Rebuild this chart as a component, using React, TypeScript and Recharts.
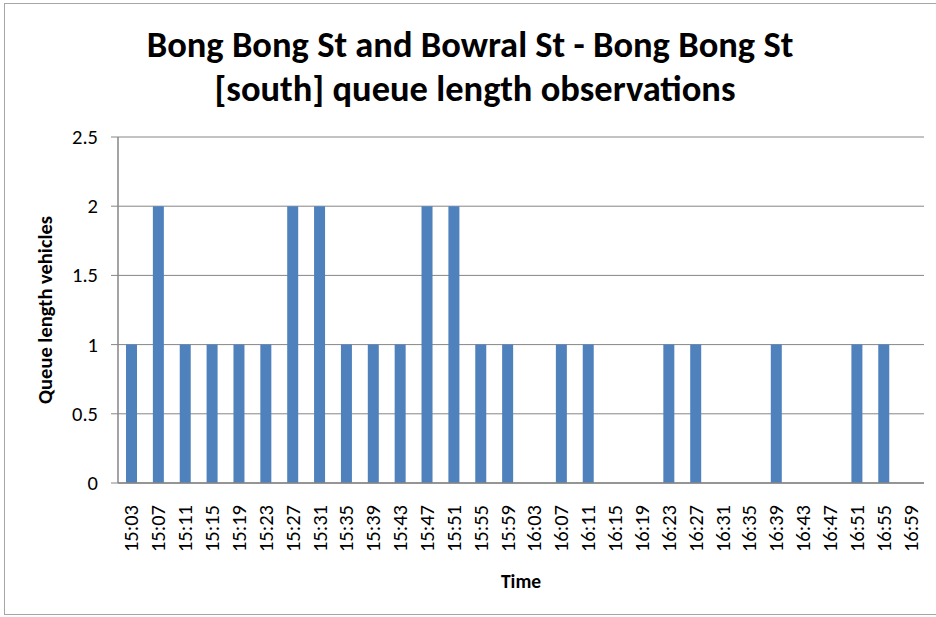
import React from "react";
import { BarChart, Bar, XAxis, YAxis, CartesianGrid, Customized } from "recharts";

const times = [
  "15:03", "15:07", "15:11", "15:15", "15:19", "15:23", "15:27", "15:31", "15:35", "15:39",
  "15:43", "15:47", "15:51", "15:55", "15:59", "16:03", "16:07", "16:11", "16:15", "16:19",
  "16:23", "16:27", "16:31", "16:35", "16:39", "16:43", "16:47", "16:51", "16:55", "16:59",
];
const queueLengths = [
  1, 2, 1, 1, 1, 1, 2, 2, 1, 1,
  1, 2, 2, 1, 1, 0, 1, 1, 0, 0,
  1, 1, 0, 0, 1, 0, 0, 1, 1, 0,
];
const yTicks = [0, 0.5, 1, 1.5, 2, 2.5];
const titleLines = ["Bong Bong St and Bowral St - Bong Bong St", "[south] queue length observations"];
const yLabel = "Queue length vehicles";
const xLabel = "Time";

const data = times.map((t, i) => ({ time: t, value: queueLengths[i] }));

const FONT = "Carlito, Lato, 'Open Sans', sans-serif";

const XTick = (props: any) => {
  const { x, payload } = props;
  return (
    <text
      transform={`translate(${x},505) rotate(-90)`}
      textAnchor="end"
      dominantBaseline="central"
      fontSize={20.5}
      fontFamily={FONT}
      fill="#000"
    >
      {payload.value}
    </text>
  );
};

const YTick = (props: any) => {
  const { y, payload } = props;
  return (
    <text x={98} y={y} textAnchor="end" dominantBaseline="central" fontSize={20.5} fontFamily={FONT} fill="#000">
      {String(payload.value)}
    </text>
  );
};

const Titles = () => (
  <g>
    <text x={470} y={57} textAnchor="middle" fontSize={36.5} fontWeight="bold" fontFamily={FONT} fill="#000">
      {titleLines[0]}
    </text>
    <text x={475} y={101} textAnchor="middle" fontSize={36.5} fontWeight="bold" fontFamily={FONT} fill="#000">
      {titleLines[1]}
    </text>
    <text
      transform="translate(45,310) rotate(-90)"
      textAnchor="middle"
      dominantBaseline="central"
      fontSize={20.5}
      fontWeight="bold"
      fontFamily={FONT}
      fill="#000"
    >
      {yLabel}
    </text>
    <text x={521} y={581} textAnchor="middle" dominantBaseline="central" fontSize={19.5} fontWeight="bold" fontFamily={FONT} fill="#000">
      {xLabel}
    </text>
  </g>
);

export default function App() {
  return (
    <div style={{ position: "absolute", left: 0, top: 0, width: 936, height: 617, overflow: "hidden", background: "#fff" }}>
      <style>{"body{margin:0}"}</style>
      <div
        style={{
          position: "absolute",
          left: 4,
          top: 3,
          width: 960,
          height: 612,
          border: "1.5px solid #a6a6a6",
          boxSizing: "border-box",
        }}
      />
      <div style={{ position: "absolute", left: 0, top: 0 }}>
        <BarChart width={936} height={617} data={data} margin={{ top: 137, right: 12, bottom: 0, left: 0 }} barCategoryGap={0}>
          <CartesianGrid horizontal vertical={false} stroke="#868686" strokeWidth={1} />
          <XAxis
            dataKey="time"
            interval={0}
            height={134}
            tick={<XTick />}
            tickLine={false}
            axisLine={{ stroke: "#868686", strokeWidth: 1.5 }}
          />
          <YAxis
            width={118}
            domain={[0, 2.5]}
            ticks={yTicks}
            tick={<YTick />}
            tickLine={{ stroke: "#868686" }}
            tickSize={7}
            axisLine={{ stroke: "#868686", strokeWidth: 1.5 }}
          />
          <Bar dataKey="value" fill="#4f81bd" barSize={11} isAnimationActive={false} />
          <Customized component={Titles} />
        </BarChart>
      </div>
    </div>
  );
}
